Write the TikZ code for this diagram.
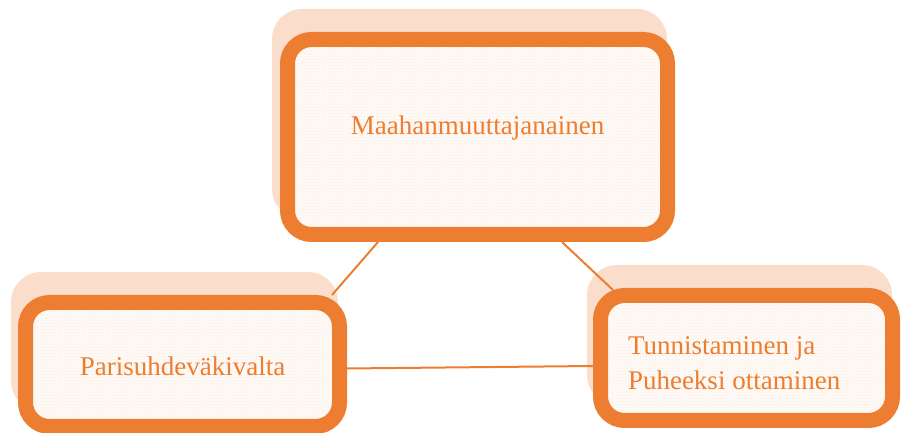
\documentclass[tikz,border=0pt]{standalone}
\usepackage{fontspec}
\setmainfont{Liberation Serif}
\usetikzlibrary{backgrounds,patterns}
\definecolor{accent}{HTML}{ED7D31}
\definecolor{shade}{HTML}{FADECB}
\definecolor{boxfill}{HTML}{FFFBF8}
\definecolor{dotc}{HTML}{F8E8DD}
\tikzset{
  box/.style={draw=accent, line width=15pt, rounded corners=24pt,
    preaction={fill=boxfill},
    preaction={pattern=crosshatch dots, pattern color=dotc},
    inner sep=0pt, text=accent, font=\fontsize{27}{35}\selectfont},
  shadowbox/.style={fill=shade, rounded corners=30pt},
  link/.style={draw=accent, line width=2pt}
}
\begin{document}
\begin{tikzpicture}[x=1pt,y=1pt]
\useasboundingbox (0,0) rectangle (901,433);
\node[box, minimum width=380pt, minimum height=195pt, text height=18pt, text depth=22pt] (T) at (477.5,296) {Maahanmuuttajanainen};
\node[box, minimum width=314pt, minimum height=124pt, text height=22pt, text depth=0pt] (L) at (182.5,68.5) {Parisuhdeväkivalta};
\node[box, minimum width=292pt, minimum height=125pt, text height=20pt, text depth=26pt] (R) at (746.5,75)
  {\makebox[237pt][l]{\begin{tabular}[t]{@{}l@{}}Tunnistaminen ja\\Puheeksi ottaminen\end{tabular}}};
\begin{scope}[on background layer]
  \fill[shadowbox] ([shift={(-8,23)}]T.north west) rectangle ([shift={(-8,23)}]T.south east);
  \fill[shadowbox] ([shift={(-7,23)}]L.north west) rectangle ([shift={(-9,23)}]L.south east);
  \fill[shadowbox] ([shift={(-6,23)}]R.north west) rectangle ([shift={(-8,23)}]R.south east);
\end{scope}
\draw[link] ([xshift=-99.5pt]T.south) -- ([xshift=-15pt]L.north east);
\draw[link] ([xshift=84.5pt]T.south) -- ([xshift=20pt,yshift=-2pt]R.north west);
\draw[link] ([yshift=-4pt]L.east) -- ([yshift=-8pt]R.west);
\end{tikzpicture}
\end{document}
